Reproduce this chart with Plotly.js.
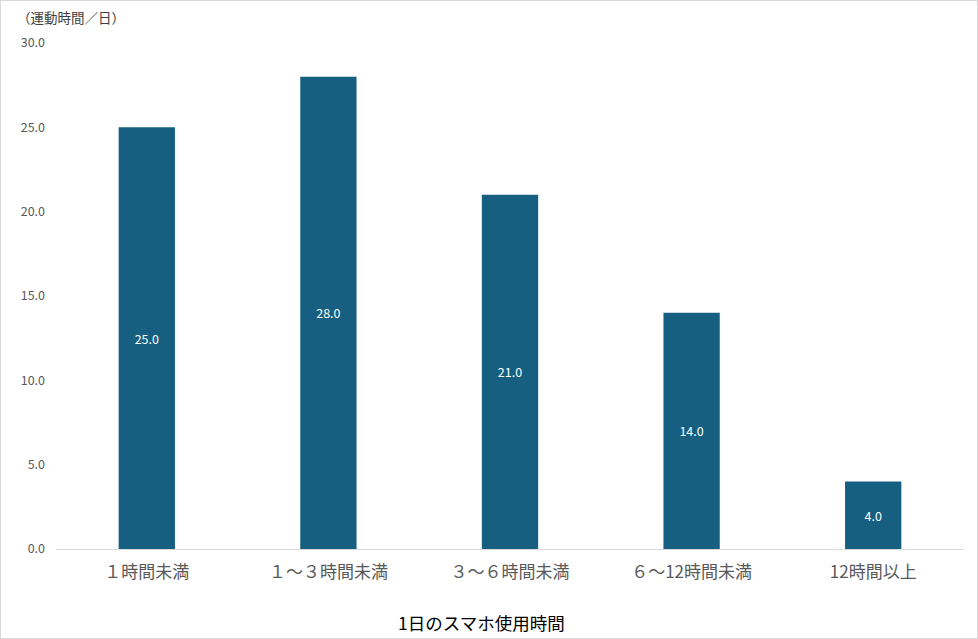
<!DOCTYPE html>
<html>
<head>
<meta charset="utf-8">
<script src="https://cdn.plot.ly/plotly-3.0.1.min.js"></script>
<style>
html,body{margin:0;padding:0;background:#fff;}
#chart{width:976px;height:637px;border:1px solid #d9d9d9;}
</style>
</head>
<body>
<div id="chart"></div>
<script>
const categories = ["１時間未満", "１～３時間未満", "３～６時間未満", "６～12時間未満", "12時間以上"];
const values = [25.0, 28.0, 21.0, 14.0, 4.0];
const yTicks = [0, 5, 10, 15, 20, 25, 30];

const font = '"Noto Sans CJK JP", "Noto Sans", sans-serif';

const trace = {
  type: 'bar',
  x: categories,
  y: values,
  width: 0.31,
  marker: {color: '#175f80', line: {color: '#175f80', width: 0}},
  texttemplate: '%{y:.1f}',
  textposition: 'inside',
  insidetextanchor: 'middle',
  textangle: 0,
  textfont: {color: '#ffffff', size: 12.5, family: font},
  hoverinfo: 'none'
};

const layout = {
  width: 976,
  height: 637,
  margin: {l: 55, r: 13, t: 42, b: 89},
  paper_bgcolor: '#ffffff',
  plot_bgcolor: '#ffffff',
  showlegend: false,
  font: {family: font, color: '#595959'},
  bargap: 0.69,
  xaxis: {
    type: 'category',
    showgrid: false,
    showline: true,
    linecolor: '#d9d9d9',
    linewidth: 1,
    ticks: '',
    ticklabelstandoff: 8,
    tickfont: {size: 17, color: '#595959', family: font}
  },
  yaxis: {
    range: [0, 30],
    tickvals: yTicks,
    tickformat: '.1f',
    showgrid: false,
    zeroline: false,
    showline: false,
    ticks: '',
    ticklabelstandoff: 10,
    tickfont: {size: 12.5, color: '#595959', family: font}
  },
  annotations: [{
    xref: 'paper', yref: 'paper',
    x: -0.045, y: 1.028,
    xanchor: 'left', yanchor: 'bottom',
    text: '（運動時間／日）',
    showarrow: false,
    font: {size: 13.5, color: '#404040', family: font}
  }, {
    xref: 'paper', yref: 'paper',
    x: 0.469, y: -0.146,
    xanchor: 'center', yanchor: 'middle',
    text: '1日のスマホ使用時間',
    showarrow: false,
    font: {size: 17.5, color: '#000000', family: font}
  }]
};

Plotly.newPlot('chart', [trace], layout, {staticPlot: true, displayModeBar: false});
</script>
</body>
</html>
